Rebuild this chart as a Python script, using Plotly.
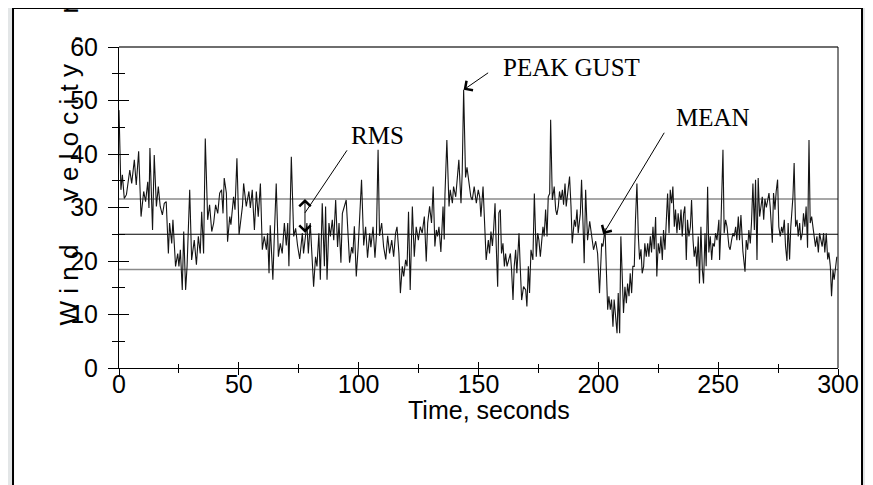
import plotly.graph_objects as go

# ---- data (time in s, wind velocity in mph) ----
seg_000_050 = [
    (0.0, 48.2), (0.8, 33.3), (1.4, 36.1), (2.2, 31.7), (3.1, 32.4), (4.5, 37.0), (5.3, 34.5),
    (6.4, 38.9), (7.2, 34.2), (8.2, 40.5), (9.2, 28.3), (10.3, 33.0), (11.1, 31.1), (12.0, 34.8),
    (12.5, 29.9), (12.9, 41.1), (14.0, 25.8), (14.7, 39.8), (15.6, 30.2), (16.4, 33.9), (17.2, 30.2),
    (18.1, 28.6), (18.9, 30.8), (19.7, 31.1), (20.6, 21.4), (21.1, 27.1), (22.0, 23.3), (22.5, 27.7),
    (23.6, 19.0), (24.5, 21.4), (25.0, 19.0), (25.6, 22.1), (26.4, 14.6), (27.0, 25.5), (27.8, 14.6),
    (28.4, 19.0), (29.5, 33.3), (30.3, 20.2), (31.4, 23.9), (32.3, 19.3), (33.1, 24.6), (33.9, 21.4),
    (34.5, 29.2), (35.3, 21.4), (36.0, 42.9), (37.0, 27.7), (37.8, 30.5), (38.7, 25.5), (39.5, 27.1),
    (40.3, 30.5), (41.2, 28.9), (42.0, 32.7), (42.8, 33.3), (43.4, 28.9), (43.9, 35.5), (44.8, 32.7),
    (45.3, 23.6), (46.2, 28.3), (46.7, 26.8), (47.8, 32.0), (48.4, 29.6), (49.2, 39.2), (50.1, 24.9),
]
seg_050_100 = [
    (51.5, 30.2), (52.0, 34.5), (53.1, 30.2), (54.2, 33.0), (54.8, 29.9), (55.6, 33.3), (56.5, 25.8),
    (57.3, 33.0), (58.1, 28.3), (59.0, 34.5), (59.8, 22.1), (60.6, 24.6), (61.5, 22.1), (62.0, 25.2),
    (62.6, 17.7), (63.1, 26.7), (64.2, 16.5), (64.8, 24.6), (65.6, 34.5), (66.5, 20.8), (67.3, 23.3),
    (68.1, 21.4), (69.0, 27.1), (69.8, 22.9), (70.4, 27.1), (70.9, 19.0), (71.9, 39.5), (72.9, 24.6),
    (73.7, 26.1), (74.5, 22.9), (75.4, 20.4), (76.5, 25.2), (77.0, 21.4), (78.4, 27.1), (79.0, 21.4),
    (79.8, 27.1), (81.2, 15.2), (82.0, 20.8), (82.6, 19.0), (83.4, 25.2), (84.0, 16.5), (84.8, 30.8),
    (85.7, 19.0), (86.2, 30.2), (86.8, 16.5), (87.6, 27.1), (88.2, 24.6), (89.0, 27.7), (89.6, 23.9),
    (90.4, 31.4), (91.2, 22.6), (91.8, 27.1), (92.6, 19.7), (93.2, 28.9), (94.8, 31.4), (95.7, 23.9),
    (96.2, 19.7), (97.1, 22.6), (97.6, 21.4), (98.2, 26.5), (99.0, 17.1), (99.8, 22.6),
]
seg_100_150 = [
    (101.2, 35.2), (102.1, 22.9), (102.9, 26.4), (103.7, 20.6), (104.6, 25.2), (105.1, 22.6),
    (106.0, 26.4), (106.8, 20.6), (107.4, 24.7), (108.1, 40.8), (108.7, 24.7), (109.6, 27.1),
    (110.4, 22.7), (111.3, 20.3), (112.1, 24.7), (112.9, 21.4), (113.8, 23.9), (114.6, 20.8),
    (115.4, 25.2), (116.0, 26.4), (116.8, 21.4), (117.4, 14.0), (118.2, 19.0), (118.8, 17.1),
    (119.6, 20.2), (120.2, 19.0), (120.8, 29.2), (121.5, 14.6), (122.4, 30.2), (123.2, 20.8),
    (124.0, 26.4), (124.9, 23.9), (125.7, 26.4), (126.5, 25.2), (127.4, 28.3), (128.2, 19.9),
    (128.8, 27.1), (129.6, 30.2), (130.4, 27.1), (131.1, 33.9), (131.8, 22.7), (132.4, 25.8),
    (132.9, 24.6), (133.5, 26.4), (134.3, 21.7), (135.2, 30.2), (135.7, 24.0), (136.0, 32.3),
    (136.8, 42.6), (137.7, 30.2), (138.2, 33.3), (139.1, 30.8), (139.6, 33.9), (140.5, 32.0),
    (141.0, 34.5), (141.8, 38.9), (142.7, 30.8), (143.2, 36.4), (143.8, 52.0), (144.6, 35.6),
    (145.2, 37.5), (146.0, 35.2), (146.8, 32.0), (147.4, 31.4), (148.2, 33.9), (149.1, 30.8),
    (149.9, 33.3), (150.5, 32.0),
]
seg_150_200 = [
    (151.0, 28.3), (151.9, 33.9), (152.7, 26.4), (153.2, 20.2), (154.1, 23.9), (154.6, 21.4),
    (155.2, 25.5), (155.8, 22.8), (156.3, 25.8), (156.9, 30.8), (157.4, 22.8), (158.0, 15.2),
    (158.5, 29.0), (159.1, 29.6), (159.6, 21.4), (160.2, 23.3), (160.8, 19.0), (161.3, 21.4),
    (161.9, 19.0), (162.7, 20.2), (163.3, 21.4), (163.8, 18.3), (164.4, 12.7), (164.9, 19.0),
    (165.5, 22.1), (166.0, 17.7), (166.9, 25.2), (167.4, 19.0), (168.0, 12.7), (168.8, 15.2),
    (169.7, 14.6), (170.2, 11.5), (170.8, 19.0), (171.3, 14.0), (171.9, 22.1), (172.7, 20.2),
    (173.3, 32.6), (174.1, 20.8), (174.7, 25.2), (175.2, 23.9), (175.8, 20.8), (176.3, 23.3),
    (176.9, 26.4), (177.4, 24.6), (178.0, 29.6), (178.6, 24.6), (179.1, 32.0), (179.7, 32.6),
    (180.1, 46.4), (180.8, 31.4), (181.6, 33.9), (182.2, 29.6), (182.7, 28.6), (183.3, 30.2),
    (183.8, 33.0), (184.4, 31.4), (185.0, 33.3), (185.5, 30.5), (186.1, 34.5), (186.6, 30.2),
    (187.5, 33.3), (188.0, 35.8), (188.6, 30.2), (189.1, 23.3), (190.0, 27.7), (190.5, 26.4),
    (191.1, 29.6), (191.6, 25.2), (192.5, 28.9), (193.0, 35.2), (193.6, 27.1), (194.1, 19.6),
    (194.7, 33.3), (195.5, 23.9), (196.4, 27.4), (197.2, 24.6), (198.0, 22.1), (198.9, 23.7),
    (199.7, 21.4), (200.5, 14.0),
]
seg_200_250 = [
    (201.4, 23.3), (201.9, 22.7), (202.8, 26.1), (203.3, 19.0), (203.9, 10.9), (204.4, 13.4),
    (205.0, 10.9), (205.5, 12.8), (206.1, 7.7), (206.6, 12.8), (207.2, 10.3), (207.8, 6.5),
    (208.3, 14.0), (208.9, 6.5), (209.4, 24.6), (210.0, 14.0), (210.5, 10.3), (211.1, 15.2),
    (211.7, 12.1), (212.2, 15.8), (212.8, 13.4), (213.3, 17.7), (213.9, 14.0), (214.4, 19.0),
    (215.0, 19.0), (215.5, 27.7), (216.1, 34.5), (216.7, 24.6), (217.2, 20.3), (217.8, 22.2),
    (218.3, 17.7), (218.9, 19.0), (219.4, 23.3), (220.0, 20.8), (220.6, 23.3), (221.1, 20.8),
    (221.7, 24.6), (222.2, 21.6), (222.8, 26.4), (223.3, 22.2), (223.9, 28.2), (224.4, 17.1),
    (225.0, 23.3), (225.6, 21.4), (226.1, 24.6), (226.7, 20.2), (227.2, 25.8), (227.8, 22.1),
    (228.3, 28.3), (228.9, 32.6), (229.5, 25.2), (230.0, 33.3), (230.6, 30.8), (231.1, 33.9),
    (231.7, 26.4), (232.2, 29.6), (232.8, 25.2), (233.3, 28.9), (233.9, 25.8), (234.5, 29.6),
    (235.0, 24.6), (235.6, 28.9), (236.1, 30.2), (236.7, 20.2), (237.2, 27.7), (237.8, 24.6),
    (238.4, 26.4), (238.9, 31.4), (239.5, 24.0), (240.0, 20.8), (240.6, 22.7), (241.1, 19.0),
    (241.7, 24.6), (242.2, 15.8), (242.8, 26.4), (243.4, 18.3), (243.9, 15.8), (244.5, 25.2),
    (245.0, 19.0), (245.6, 33.9), (246.1, 21.6), (246.7, 24.6), (247.3, 20.2), (247.8, 23.3),
    (248.4, 22.7), (248.9, 25.2), (249.5, 23.9), (250.3, 27.7),
]
seg_250_300 = [
    (250.6, 20.2), (251.1, 25.8), (252.0, 40.8), (252.5, 25.2), (253.1, 27.7), (253.7, 26.4),
    (254.5, 22.7), (255.0, 22.1), (255.6, 23.9), (256.2, 25.2), (256.7, 24.6), (257.3, 26.4),
    (257.8, 23.9), (258.4, 28.3), (258.9, 23.9), (259.5, 28.6), (260.3, 21.9), (261.2, 18.0),
    (261.7, 23.9), (262.3, 22.1), (262.8, 25.8), (263.4, 23.3), (263.9, 27.1), (264.5, 34.5),
    (265.1, 25.8), (265.6, 35.2), (266.2, 20.2), (266.7, 35.5), (267.3, 28.3), (267.8, 30.2),
    (268.4, 32.0), (269.0, 27.7), (269.5, 31.6), (270.1, 30.0), (270.6, 31.6), (271.2, 32.7),
    (271.7, 30.2), (272.6, 23.4), (273.1, 32.7), (273.7, 29.6), (274.2, 33.0), (274.8, 35.2),
    (275.3, 26.4), (275.9, 24.6), (276.5, 26.4), (277.0, 25.2), (277.6, 27.7), (278.1, 22.8),
    (278.7, 20.0), (279.2, 27.1), (279.8, 20.3), (280.3, 26.4), (281.2, 32.0), (281.7, 38.3),
    (282.3, 26.4), (282.9, 27.7), (283.4, 24.6), (284.0, 27.1), (284.5, 23.9), (285.1, 25.2),
    (285.6, 28.9), (286.2, 26.4), (286.7, 30.2), (287.3, 22.5), (287.9, 42.6), (288.4, 27.1),
    (289.0, 28.3), (289.5, 26.4), (290.1, 23.9), (290.6, 22.7), (291.2, 24.6), (291.8, 21.6),
    (292.3, 25.2), (292.9, 23.9), (293.4, 22.7), (294.0, 25.2), (294.5, 21.6), (295.1, 25.2),
    (295.7, 20.3), (296.2, 21.6), (296.8, 19.0), (297.3, 13.4), (297.9, 18.3), (298.4, 16.5),
    (299.0, 19.0), (299.5, 20.8),
]

MEAN_MPH = 25.0
RMS_UPPER = 31.6
RMS_LOWER = 18.4
RMS_MARK_T = 77.6      # time where the RMS double arrow is drawn
MEAN_MARK_T = 202.0    # time where the MEAN arrow points

x_ticks = [0, 50, 100, 150, 200, 250, 300]
y_ticks = [0, 10, 20, 30, 40, 50, 60]

samples = seg_000_050 + seg_050_100 + seg_100_150 + seg_150_200 + seg_200_250 + seg_250_300
time_s = [p[0] for p in samples]
wind_mph = [p[1] for p in samples]

peak_i = max(range(len(wind_mph)), key=lambda i: wind_mph[i])
peak_t, peak_v = time_s[peak_i], wind_mph[peak_i]

SANS = "Liberation Sans, Arial, sans-serif"
SERIF = "Liberation Serif, Times New Roman, serif"

fig = go.Figure()
fig.add_trace(go.Scatter(x=time_s, y=wind_mph, mode="lines",
                         line=dict(color="#141414", width=1.1),
                         hoverinfo="skip", showlegend=False))
# helper trace so the overlay axes (inner half of crossing ticks) are drawn
fig.add_trace(go.Scatter(x=time_s[:1], y=wind_mph[:1], xaxis="x2", yaxis="y2",
                         mode="markers", marker=dict(opacity=0),
                         hoverinfo="skip", showlegend=False))

shapes = [
    # white card with black border
    dict(type="rect", xref="paper", yref="paper", x0=-0.1474, x1=1.0334, y0=-0.45, y1=1.1215,
         fillcolor="white", line=dict(color="black", width=2), layer="below"),
    # RMS and mean levels
    dict(type="line", xref="paper", yref="y", x0=0, x1=1, y0=RMS_UPPER, y1=RMS_UPPER,
         line=dict(color="#8a8a8a", width=1.6), layer="below"),
    dict(type="line", xref="paper", yref="y", x0=0, x1=1, y0=RMS_LOWER, y1=RMS_LOWER,
         line=dict(color="#8a8a8a", width=1.6), layer="below"),
    dict(type="line", xref="paper", yref="y", x0=0, x1=1, y0=MEAN_MPH, y1=MEAN_MPH,
         line=dict(color="black", width=1.2), layer="below"),
    # frame top (grey) and right (black)
    dict(type="line", xref="paper", yref="paper", x0=0, x1=1, y0=1, y1=1,
         line=dict(color="#6e6e6e", width=2)),
    dict(type="line", xref="paper", yref="paper", x0=1, x1=1, y0=0, y1=1,
         line=dict(color="black", width=1)),
]

ann = [
    dict(text="PEAK GUST", x=188.6, y=56.1, xref="x", yref="y", showarrow=False,
         font=dict(family=SERIF, size=25, color="black")),
    dict(text="", x=peak_t, y=peak_v, xref="x", yref="y", showarrow=True,
         ax=26, ay=-18, arrowhead=4, arrowsize=2.2, arrowwidth=1, arrowcolor="black"),
    dict(text="RMS", x=108.0, y=43.5, xref="x", yref="y", showarrow=False,
         font=dict(family=SERIF, size=25, color="black")),
    dict(text="", x=RMS_MARK_T, y=29.0, xref="x", yref="y", showarrow=True,
         ax=43, ay=-64, arrowhead=0, arrowwidth=1, arrowcolor="black"),
    dict(text="", x=RMS_MARK_T, y=RMS_UPPER, xref="x", yref="y", showarrow=True,
         axref="x", ayref="y", ax=RMS_MARK_T, ay=MEAN_MPH, arrowside="end+start",
         arrowhead=4, startarrowhead=4, arrowsize=2.2, startarrowsize=2.2,
         arrowwidth=1, arrowcolor="black"),
    dict(text="MEAN", x=247.8, y=46.9, xref="x", yref="y", showarrow=False,
         font=dict(family=SERIF, size=25, color="black")),
    dict(text="", x=MEAN_MARK_T, y=MEAN_MPH, xref="x", yref="y", showarrow=True,
         ax=62, ay=-103, arrowhead=4, arrowsize=2.2, arrowwidth=1, arrowcolor="black"),
    dict(text="Time, seconds", x=0.5146, y=-0.1308, xref="paper", yref="paper",
         xanchor="center", yanchor="middle",
         showarrow=False, font=dict(family=SANS, size=25, color="black")),
    dict(text="W i n d\u00a0\u00a0\u00a0\u00a0\u00a0 v e l o c i t y\u00a0\u00a0 ,\u00a0\u00a0 m p h",
         x=-0.0709, y=0.1246, xref="paper", yref="paper", xanchor="center", yanchor="bottom",
         textangle=-90, showarrow=False, font=dict(family=SANS, size=26, color="black")),
]

tickfont = dict(family=SANS, size=25, color="black")

# the page body adds an 8 px offset, so margins are reduced by 8 px on the left/top
fig.update_layout(
    width=873, height=485,
    margin=dict(l=111, r=43, t=39, b=125, pad=0),
    paper_bgcolor="#e3e6e7",
    plot_bgcolor="white",
    showlegend=False,
    shapes=shapes,
    annotations=ann,
    xaxis=dict(range=[0, 300], tickmode="array", tickvals=x_ticks, ticks="outside", ticklen=6,
               tickwidth=1, tickcolor="black", showline=True, linecolor="black", linewidth=1,
               showgrid=False, zeroline=False, tickfont=tickfont, ticklabelstandoff=-12,
               minor=dict(dtick=25, tick0=0, ticks="outside", ticklen=4, tickwidth=1,
                          tickcolor="black", showgrid=False)),
    xaxis2=dict(range=[0, 300], overlaying="x", anchor="y", side="bottom",
                tickmode="array", tickvals=x_ticks, ticks="inside", ticklen=6, tickwidth=1,
                tickcolor="black", showticklabels=False, showline=False, showgrid=False,
                zeroline=False,
                minor=dict(dtick=25, tick0=0, ticks="inside", ticklen=4, tickwidth=1,
                           tickcolor="black", showgrid=False)),
    yaxis=dict(range=[0, 60], tickmode="array", tickvals=y_ticks, ticks="outside", ticklen=10,
               tickwidth=1, tickcolor="black", showline=True, linecolor="black", linewidth=1,
               showgrid=False, zeroline=False, tickfont=tickfont, ticklabelstandoff=5,
               minor=dict(dtick=5, tick0=0, ticks="outside", ticklen=6, tickwidth=1,
                          tickcolor="black", showgrid=False)),
    yaxis2=dict(range=[0, 60], overlaying="y", anchor="x", side="left",
                tickmode="array", tickvals=y_ticks, ticks="inside", ticklen=10, tickwidth=1,
                tickcolor="black", showticklabels=False, showline=False, showgrid=False,
                zeroline=False,
                minor=dict(dtick=5, tick0=0, ticks="inside", ticklen=6, tickwidth=1,
                           tickcolor="black", showgrid=False)),
)

fig.write_html("out.html")
